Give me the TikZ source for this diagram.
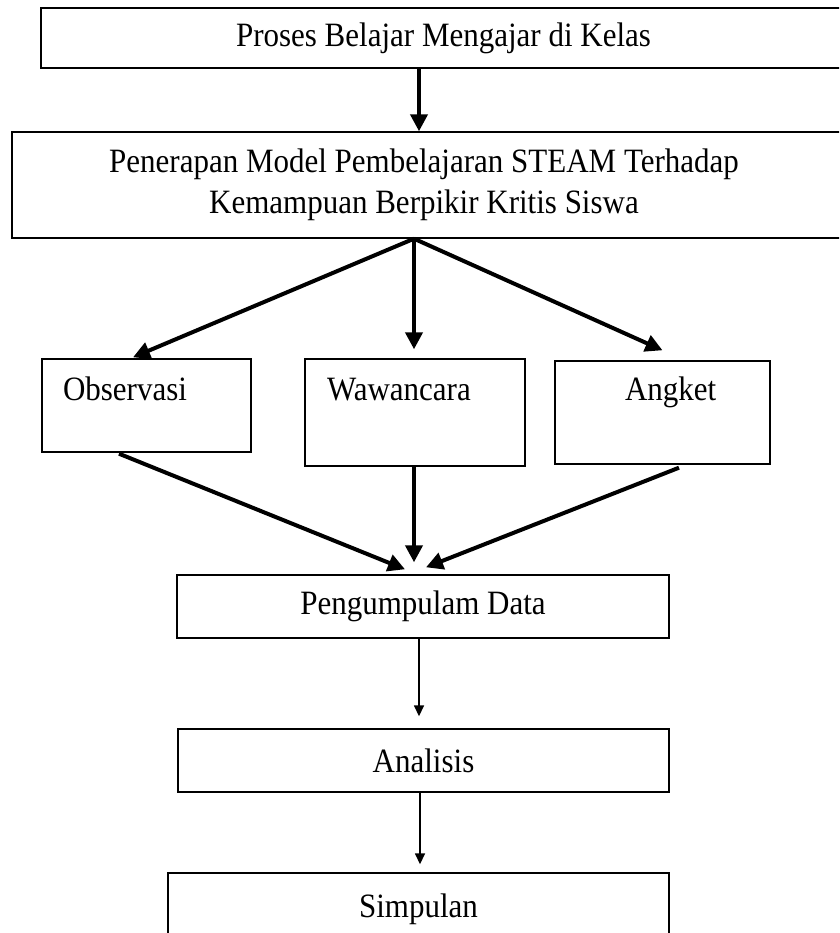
\documentclass[tikz,border=0pt]{standalone}
\usepackage{fontspec}
\setmainfont{Liberation Serif}
\usetikzlibrary{arrows.meta}
\newcommand\talltext[1]{\scalebox{1}[1.1]{#1}}
\begin{document}
\begin{tikzpicture}[x=1pt,y=-1pt,
  box/.style={draw, line width=1.4pt, inner sep=0pt, font=\fontsize{31}{41}\selectfont},
  topbox/.style={box, align=left, inner xsep=21pt},
  thickarrow/.style={line width=4pt, -{Triangle[length=17pt,width=17pt]}},
  thinarrow/.style={line width=1.5pt, -{Triangle[length=11pt,width=10pt]}}]
\useasboundingbox (0,0) rectangle (839,933);
\clip (0,0) rectangle (839,933);
\fill[white] (0,0) rectangle (839,933);

\node[box, minimum width=859pt, minimum height=60pt] (b1) at (470.5,38) {\talltext{Proses Belajar Mengajar di Kelas}\hspace*{54pt}};
\node[box, align=center, minimum width=868pt, minimum height=106pt] (b2) at (446,185)
  {\talltext{Penerapan Model Pembelajaran STEAM Terhadap}\hspace*{44pt}\\\talltext{Kemampuan Berpikir Kritis Siswa}\hspace*{44pt}};

\node[topbox, text width=167pt, text height=41pt, text depth=52pt] (obs) at (146.5,405.5) {\talltext{Observasi}};
\node[topbox, inner xsep=22pt, text width=176pt, text height=41pt, text depth=66pt] (waw) at (415,412.5) {\talltext{Wawancara}};
\node[topbox, text width=173pt, text height=39pt, text depth=64pt] (ang) at (662.5,412.5) {\hspace*{49pt}\talltext{Angket}};

\node[box, minimum width=492pt, minimum height=63pt] (pd) at (423,606.5) {\talltext{Pengumpulam Data}};
\node[box, minimum width=491pt, minimum height=63pt] (an) at (423.5,760.5) {\talltext{Analisis}};
\node[box, minimum width=501pt, text height=44pt, text depth=46pt] (sim) at (418.5,918) {\talltext{Simpulan}};

\draw[thickarrow] ([xshift=-51.5pt]b1.south) -- ([xshift=-27pt]b2.north);

\draw[thickarrow] ([xshift=-32pt]b2.south) -- ([xshift=-13.5pt,yshift=1pt]obs.north);
\draw[thickarrow] ([xshift=-32pt]b2.south) -- ([xshift=-1pt,yshift=9pt]waw.north);
\draw[thickarrow] ([xshift=-32pt]b2.south) -- ([yshift=10pt]ang.north);

\draw[thickarrow] ([xshift=-27.5pt,yshift=-1pt]obs.south) -- ([xshift=-18pt,yshift=5pt]pd.north);
\draw[thickarrow] ([xshift=-1pt]waw.south) -- ([xshift=-9pt,yshift=12pt]pd.north);
\draw[thickarrow] ([xshift=16.5pt,yshift=-3pt]ang.south) -- ([xshift=3pt,yshift=7pt]pd.north);

\draw[thinarrow] ([xshift=-4pt]pd.south) -- ([xshift=-4.5pt,yshift=12pt]an.north);
\draw[thinarrow] ([xshift=-3.5pt]an.south) -- ([xshift=1.5pt,yshift=8pt]sim.north);
\end{tikzpicture}
\end{document}
